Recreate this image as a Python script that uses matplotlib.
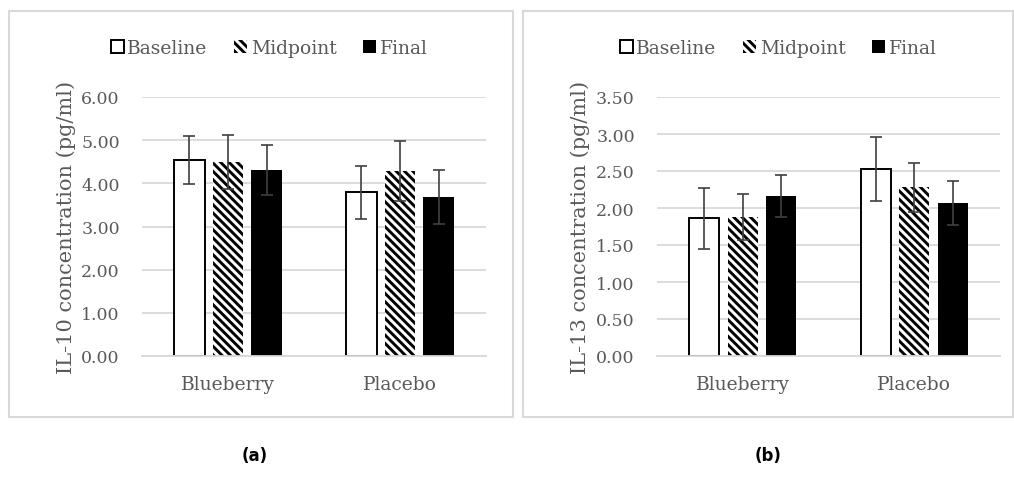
import numpy as np
import matplotlib
matplotlib.use("Agg")
import matplotlib.pyplot as plt
from matplotlib.patches import Patch, Rectangle

# values
groups = ["Blueberry", "Placebo"]
series = ["Baseline", "Midpoint", "Final"]

il10_mean = {"Baseline": [4.54, 3.79], "Midpoint": [4.49, 4.28], "Final": [4.31, 3.68]}
il10_err = {"Baseline": [0.56, 0.61], "Midpoint": [0.63, 0.69], "Final": [0.58, 0.62]}
il10_ticks = [0.0, 1.0, 2.0, 3.0, 4.0, 5.0, 6.0]

il13_mean = {"Baseline": [1.86, 2.53], "Midpoint": [1.88, 2.28], "Final": [2.16, 2.07]}
il13_err = {"Baseline": [0.41, 0.43], "Midpoint": [0.31, 0.33], "Final": [0.28, 0.30]}
il13_ticks = [0.0, 0.5, 1.0, 1.5, 2.0, 2.5, 3.0, 3.5]

TEXT = "#595959"
GRID = "#d9d9d9"
SERIF = "DejaVu Serif"

plt.rcParams["hatch.linewidth"] = 2.1

STYLES = {
    "Baseline": dict(facecolor="white", edgecolor="black", linewidth=1.4),
    "Midpoint": dict(facecolor="white", edgecolor="black", linewidth=0, hatch="\\\\\\\\"),
    "Final": dict(facecolor="black", edgecolor="black", linewidth=0),
}


def draw_panel(ax, means, errs, ticks, ylabel):
    x = np.arange(len(groups))
    step = 0.224
    width = 0.175
    for i, s in enumerate(series):
        pos = x + (i - 1) * step
        ax.bar(pos, means[s], width, zorder=2, **STYLES[s])
        ax.errorbar(pos, means[s], yerr=errs[s], fmt="none", ecolor="#404040",
                    elinewidth=1.2, capsize=4, capthick=1.2, zorder=3)
    ax.set_xlim(-0.5, 1.5)
    ax.set_ylim(ticks[0], ticks[-1])
    ax.set_yticks(ticks)
    ax.set_yticklabels([f"{t:.2f}" for t in ticks])
    ax.set_xticks(x)
    ax.set_xticklabels(groups)
    ax.yaxis.grid(True, color=GRID, linewidth=1.3, zorder=0)
    ax.set_axisbelow(True)
    for side in ["top", "right", "left"]:
        ax.spines[side].set_visible(False)
    ax.spines["bottom"].set_color(GRID)
    ax.spines["bottom"].set_linewidth(1.3)
    ax.tick_params(axis="both", length=0, labelcolor=TEXT)
    ax.tick_params(axis="y", pad=16, labelsize=12.5)
    ax.tick_params(axis="x", pad=14, labelsize=13.5)
    for lab in ax.get_xticklabels() + ax.get_yticklabels():
        lab.set_family(SERIF)
    ax.set_ylabel(ylabel, color=TEXT, fontsize=15, family=SERIF, labelpad=4)


fig = plt.figure(figsize=(10.14, 4.81), dpi=100)

# light grey frames round each panel
fig.add_artist(Rectangle((9 / 1014, 1 - 418 / 481), 504 / 1014, 406 / 481,
                         transform=fig.transFigure, fill=False, edgecolor=GRID, linewidth=1.5))
fig.add_artist(Rectangle((523 / 1014, 1 - 418 / 481), 490 / 1014, 406 / 481,
                         transform=fig.transFigure, fill=False, edgecolor=GRID, linewidth=1.5))

ax1 = fig.add_axes([142 / 1014, 1 - 357 / 481, 344 / 1014, 259 / 481])
ax2 = fig.add_axes([657 / 1014, 1 - 357 / 481, 343 / 1014, 259 / 481])

draw_panel(ax1, il10_mean, il10_err, il10_ticks, "IL-10 concentration (pg/ml)")
draw_panel(ax2, il13_mean, il13_err, il13_ticks, "IL-13 concentration (pg/ml)")

handles = [Patch(label=s, **STYLES[s]) for s in series]
for cx in [269 / 1014, 778 / 1014]:
    leg = fig.legend(handles=handles, loc="center", bbox_to_anchor=(cx, 1 - 49 / 481),
                     ncol=3, frameon=False, handlelength=0.7, handleheight=0.7,
                     handletextpad=0.2, columnspacing=1.4,
                     prop={"family": SERIF, "size": 13.5})
    for t in leg.get_texts():
        t.set_color(TEXT)

fig.text(255 / 1014, 1 - 456 / 481, "(a)", ha="center", va="center",
         fontsize=12, fontweight="bold", family="DejaVu Sans")
fig.text(768 / 1014, 1 - 456 / 481, "(b)", ha="center", va="center",
         fontsize=12, fontweight="bold", family="DejaVu Sans")

fig.savefig("out.png", dpi=100)
